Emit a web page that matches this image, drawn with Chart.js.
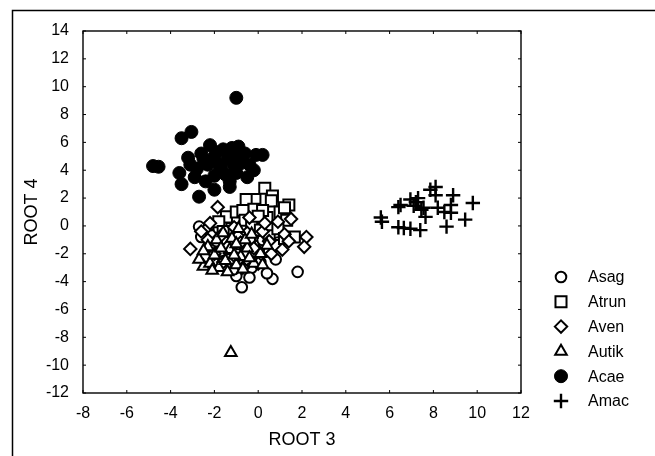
<!DOCTYPE html>
<html>
<head>
<meta charset="utf-8">
<script src="https://cdn.jsdelivr.net/npm/chart.js@4"></script>
<style>
  html, body { margin: 0; padding: 0; background: #fff; }
  #chart { display: block; }
</style>
</head>
<body>
<canvas id="chart" width="655" height="456"></canvas>
<script>
// group names, in legend order
const groups = ['Asag', 'Atrun', 'Aven', 'Autik', 'Acae', 'Amac'];

// [ROOT 3, ROOT 4] pairs
const asag = [[-2.7,-0.05],[-2.35,-0.3],[-2.6,-0.8],[-2.1,-0.7],[-1.8,-0.2],[-1.5,-1.0],[-1.2,-0.4],[-0.9,-1.3],[-0.5,-0.8],[-0.2,-1.4],[0.2,-1.0],[0.5,-1.8],[0.8,-2.4],[1.8,-3.3],[0.65,-3.8],[-0.75,-4.4],[-1.0,-3.6],[-0.3,-3.0],[-1.3,-2.4],[-1.7,-1.8],[-2.2,-1.5],[-2.0,-2.7],[-0.6,-2.1],[0.1,-2.6],[-1.1,-3.1],[0.4,-3.4],[-0.1,-0.4],[-2.4,-2.2],[-1.5,-2.8],[0.9,-1.2],[-0.4,-3.7],[-1.9,-1.1]];
const atrun = [[0.3,2.7],[0.65,2.15],[0.6,1.8],[1.4,1.5],[-0.15,1.9],[-0.55,1.9],[-0.2,1.2],[0.4,0.6],[1.0,1.0],[1.3,0.4],[1.65,-0.8],[-1.45,0.65],[-1.0,1.0],[-0.7,1.1],[-0.6,0.4],[-0.3,0.0],[0.1,-0.3],[0.5,-0.7],[0.9,-0.2],[-1.8,0.3],[-1.2,-0.2],[-0.9,-0.7],[0.2,1.1],[0.8,-1.4],[-0.4,-1.2],[1.2,-0.9],[0.0,0.7],[-1.6,-0.4],[1.2,1.3]];
const aven = [[-3.1,-1.65],[-1.85,1.35],[2.2,-0.8],[2.1,-1.5],[1.5,0.5],[1.2,-0.6],[0.9,0.3],[0.5,-1.1],[0.2,-0.4],[-0.2,-1.6],[-0.5,-0.5],[-0.8,-1.2],[-1.1,-0.1],[-1.4,-1.5],[-1.7,-0.7],[-2.0,-2.0],[-2.3,-1.0],[-2.6,-0.4],[-0.4,0.6],[0.6,-2.0],[1.1,-1.7],[-1.0,-2.3],[-1.6,-2.6],[0.0,-2.7],[-2.2,0.2],[0.3,0.2],[1.4,-1.1],[-0.7,-3.0]];
const autik = [[-1.25,-9.1],[-2.5,-2.9],[-2.7,-2.4],[-2.2,-2.7],[-2.0,-2.1],[-1.8,-3.0],[-1.5,-2.5],[-1.3,-1.7],[-1.0,-2.8],[-0.8,-2.2],[-0.5,-1.6],[-0.2,-2.7],[0.1,-2.0],[0.4,-1.4],[-2.3,-1.5],[-1.9,-1.0],[-1.6,-0.5],[-1.2,-0.9],[-0.9,-0.2],[-0.6,-1.0],[-0.3,-0.6],[-2.1,-3.2],[-1.4,-3.3],[-0.7,-3.1],[0.2,-2.8],[-1.1,-2.1],[-2.5,-1.8],[-1.7,-1.6],[-0.4,-2.3],[-1.0,-1.3]];
const acae = [[-1.0,9.2],[-3.5,6.3],[-3.05,6.75],[-4.8,4.3],[-4.55,4.25],[-3.6,3.8],[-3.5,3.0],[-2.7,2.1],[-3.1,4.4],[-2.8,4.1],[-2.5,4.8],[-2.2,5.8],[-2.0,5.0],[-1.8,4.4],[-1.6,5.5],[-1.4,4.8],[-1.2,5.6],[-1.0,5.1],[-0.8,4.5],[-0.6,5.2],[-0.4,4.4],[-0.1,5.1],[0.2,5.1],[-0.5,3.5],[-1.0,3.8],[-1.5,3.7],[-2.0,3.6],[-2.4,3.2],[-2.0,2.6],[-1.3,2.8],[-2.6,5.2],[-3.2,4.9],[-1.7,4.2],[-1.1,4.3],[-2.3,4.4],[-0.2,4.0],[-2.9,3.5],[-1.9,5.3],[-0.9,5.7],[-1.3,3.2]];
const amac = [[5.6,0.6],[5.65,0.3],[6.4,1.35],[6.5,1.5],[6.95,1.9],[7.2,1.7],[7.3,2.0],[7.45,1.15],[7.86,2.6],[8.1,2.8],[8.1,2.2],[8.9,2.2],[9.8,1.65],[9.45,0.45],[8.6,-0.05],[7.64,0.65],[7.4,-0.3],[6.95,-0.2],[6.65,-0.15],[6.4,-0.1],[8.2,1.3],[8.5,1.0],[8.8,0.95],[8.8,1.5],[7.55,1.3],[7.1,1.45]];

// axis ranges and tick steps
const xMin = -8, xMax = 12, xStep = 2;
const yMin = -12, yMax = 14, yStep = 2;

const seriesData = [asag, atrun, aven, autik, acae, amac];
const styles = [
    { pointStyle: 'circle',   radius: 5.3, fill: '#fff', width: 2,   order: 3 },
    { pointStyle: 'rect',     radius: 7.8, fill: '#fff', width: 2,   order: 2 },
    { pointStyle: 'rectRot',  radius: 6.2, fill: '#fff', width: 2,   order: 1 },
    { pointStyle: 'triangle', radius: 6.7, fill: '#fff', width: 2,   order: 0 },
    { pointStyle: 'circle',   radius: 6.5, fill: '#000', width: 1,   order: 4 },
    { pointStyle: 'cross',    radius: 7.2, fill: '#000', width: 2.4, order: 5 }
];

const datasets = groups.map((name, i) => ({
    label: name,
    data: seriesData[i].map(p => ({ x: p[0], y: p[1] })),
    pointStyle: styles[i].pointStyle,
    pointRadius: styles[i].radius,
    pointHoverRadius: styles[i].radius,
    pointBorderWidth: styles[i].width,
    borderColor: '#000',
    backgroundColor: styles[i].fill,
    order: styles[i].order
}));

// frame, plot box, inner ticks and the legend
const decorations = {
    id: 'decorations',
    afterDraw(chart) {
        const ctx = chart.ctx;
        const a = chart.chartArea;
        const sx = chart.scales.x, sy = chart.scales.y;
        ctx.save();
        ctx.strokeStyle = '#000';

        // outer frame (left and top edges visible)
        ctx.lineWidth = 1.5;
        ctx.beginPath();
        ctx.moveTo(12.5, 456);
        ctx.lineTo(12.5, 10.5);
        ctx.lineTo(655, 10.5);
        ctx.stroke();

        // plot box
        ctx.lineWidth = 1.4;
        ctx.strokeRect(a.left, a.top, a.right - a.left, a.bottom - a.top);

        // small inward ticks
        ctx.lineWidth = 1;
        ctx.beginPath();
        for (let v = xMin; v <= xMax; v += xStep) {
            const px = sx.getPixelForValue(v);
            ctx.moveTo(px, a.bottom); ctx.lineTo(px, a.bottom - 3);
            ctx.moveTo(px, a.top); ctx.lineTo(px, a.top + 3);
        }
        for (let v = yMin; v <= yMax; v += yStep) {
            const py = sy.getPixelForValue(v);
            ctx.moveTo(a.left, py); ctx.lineTo(a.left + 3, py);
            ctx.moveTo(a.right, py); ctx.lineTo(a.right - 3, py);
        }
        ctx.stroke();

        // legend
        ctx.font = '16px "Liberation Sans", Arial, sans-serif';
        ctx.textBaseline = 'middle';
        ctx.textAlign = 'left';
        chart.data.datasets.forEach((ds, i) => {
            const y = 277 + i * 24.8;
            ctx.fillStyle = ds.backgroundColor;
            ctx.strokeStyle = '#000';
            ctx.lineWidth = ds.pointBorderWidth;
            Chart.helpers.drawPoint(ctx, {
                pointStyle: ds.pointStyle,
                radius: ds.pointRadius,
                borderWidth: ds.pointBorderWidth,
                rotation: 0
            }, 561, y);
            ctx.fillStyle = '#000';
            ctx.fillText(ds.label, 588, y + 1);
        });
        ctx.restore();
    }
};

const tickFont = { family: '"Liberation Sans", Arial, sans-serif', size: 16 };
const titleFont = { family: '"Liberation Sans", Arial, sans-serif', size: 18 };

new Chart(document.getElementById('chart'), {
    type: 'scatter',
    data: { datasets: datasets },
    options: {
        responsive: false,
        animation: false,
        events: [],
        layout: { padding: { top: 31, right: 134, left: 0, bottom: 0 } },
        plugins: {
            legend: { display: false },
            tooltip: { enabled: false }
        },
        scales: {
            x: {
                type: 'linear',
                min: xMin, max: xMax,
                grid: { display: false },
                border: { display: false },
                ticks: { stepSize: xStep, color: '#000', font: tickFont, padding: 3, maxRotation: 0 },
                title: { display: true, text: 'ROOT 3', color: '#000', font: titleFont, padding: { top: 0, bottom: 5 } },
                afterFit: (scale) => { scale.height = 63; }
            },
            y: {
                type: 'linear',
                min: yMin, max: yMax,
                grid: { display: false },
                border: { display: false },
                ticks: { stepSize: yStep, color: '#000', font: tickFont, padding: 6 },
                title: { display: true, text: 'ROOT 4', color: '#000', font: titleFont, padding: { top: 21, bottom: 0 } },
                afterFit: (scale) => { scale.width = 83; }
            }
        }
    },
    plugins: [decorations]
});
</script>
</body>
</html>
